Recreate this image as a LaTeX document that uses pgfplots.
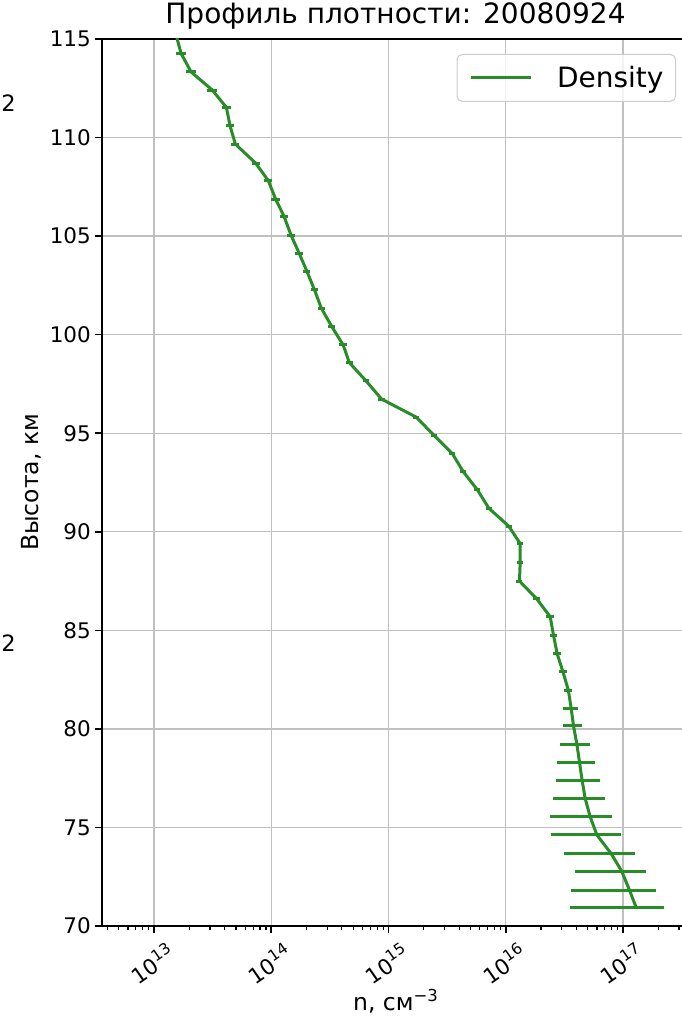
\documentclass[border=0pt]{standalone}
\usepackage{fontspec}
\setmainfont{DejaVu Sans}
\usepackage{pgfplots}
\usepackage{pgfplotstable}
\pgfplotsset{compat=1.18}

\definecolor{dens}{RGB}{40,140,40}
\definecolor{gridc}{RGB}{192,192,192}
\definecolor{legframe}{RGB}{204,204,204}

\newcommand\tenpow[1]{10\raisebox{9bp}{\fontsize{15.5bp}{15.5bp}\selectfont #1}}

% altitude (km), density (cm^-3), uncertainty (cm^-3)
\pgfplotstableread{
h      n         e
115.22 1.54e13   1.54e12
114.27 1.70e13   1.70e12
113.33 2.07e13   2.07e12
112.41 3.14e13   3.14e12
111.53 4.14e13   3.73e12
110.59 4.45e13   3.56e12
109.67 4.94e13   3.95e12
108.69 7.38e13   5.90e12
107.81 9.44e13   7.55e12
106.87 1.09e14   8.72e12
106.00 1.285e14  1.03e13
105.04 1.476e14  1.18e13
104.14 1.726e14  1.21e13
103.20 2.018e14  1.41e13
102.28 2.333e14  1.63e13
101.34 2.673e14  1.87e13
100.41 3.281e14  2.30e13
99.48  4.102e14  2.87e13
98.58  4.634e14  3.24e13
97.65  6.442e14  4.19e13
96.73  8.730e14  5.67e13
95.82  1.718e15  1.03e14
94.89  2.449e15  1.47e14
93.98  3.491e15  2.09e14
93.05  4.335e15  2.60e14
92.12  5.741e15  3.44e14
91.19  7.178e15  4.31e14
90.29  1.059e16  6.35e14
89.40  1.327e16  7.96e14
88.45  1.327e16  7.96e14
87.50  1.309e16  7.85e14
86.59  1.841e16  1.20e15
85.69  2.393e16  1.68e15
84.75  2.553e16  1.91e15
83.80  2.748e16  2.20e15
82.91  3.069e16  2.50e15
81.96  3.420e16  2.80e15
81.04  3.614e16  5.30e15
80.15  3.784e16  7.20e15
79.20  4.046e16  1.15e16
78.31  4.256e16  1.52e16
77.37  4.487e16  1.83e16
76.48  4.753e16  2.21e16
75.54  5.248e16  2.87e16
74.62  5.984e16  3.57e16
73.69  7.889e16  4.77e16
72.77  9.772e16  5.86e16
71.82  1.135e17  7.73e16
70.93  1.297e17  9.41e16
}\densitytable

\begin{document}
\begin{tikzpicture}
\begin{axis}[
  at={(0,0)}, anchor=south west,
  scale only axis, width=587bp, height=887bp,
  xmode=log, log basis x=10,
  xmin=3.600e12, xmax=3.656e17,
  ymin=70, ymax=115,
  ytick={70,75,...,115},
  xtick={1e13,1e14,1e15,1e16,1e17},
  xticklabels={\tenpow{13},\tenpow{14},\tenpow{15},\tenpow{16},\tenpow{17}},
  minor xtick={4e12,5e12,6e12,7e12,8e12,9e12,
    2e13,3e13,4e13,5e13,6e13,7e13,8e13,9e13,
    2e14,3e14,4e14,5e14,6e14,7e14,8e14,9e14,
    2e15,3e15,4e15,5e15,6e15,7e15,8e15,9e15,
    2e16,3e16,4e16,5e16,6e16,7e16,8e16,9e16,
    2e17,3e17},
  /pgf/number format/assume math mode=true,
  grid=major,
  major grid style={gridc, line width=1.3bp},
  axis line style={line width=1.6bp},
  every tick/.style={black, line width=1.6bp},
  minor tick style={black, line width=1.2bp},
  tick align=outside, tick pos=left,
  major tick length=7bp, minor tick length=4bp,
  tick label style={font=\fontsize{21.5bp}{25bp}\selectfont},
  yticklabel style={anchor=east, inner sep=0pt, xshift=-4bp},
  xticklabel style={anchor=center, inner sep=0pt, yshift=-30.5bp, xshift=-2bp, rotate=35},
  title={Профиль плотности: 20080924},
  title style={font=\fontsize{28bp}{34bp}\selectfont, at={(axis description cs:0.5,1)}, anchor=base, yshift=10bp, inner sep=0pt},
  xlabel={n, см\raisebox{9bp}{\fontsize{16.5bp}{16.5bp}\selectfont −3}},
  xlabel style={font=\fontsize{23.5bp}{28bp}\selectfont, at={(axis description cs:0.5,-0.0958)}, anchor=base, inner sep=0pt},
  ylabel={Высота, км},
  ylabel style={font=\fontsize{23.5bp}{28bp}\selectfont, at={(axis description cs:-0.1090,0.5)}, rotate=0, anchor=base, inner sep=0pt},
  legend style={at={(axis description cs:0.97785,0.98309)}, anchor=north east,
    draw=legframe, line width=1bp, rounded corners=5bp,
    fill=white, fill opacity=0.8, text opacity=1,
    inner xsep=12bp, inner ysep=12bp,
    font=\fontsize{28bp}{34bp}\selectfont,
    nodes={inner sep=0pt}},
  legend cell align=left,
]
\addplot[dens, line width=3bp,
  error bars/.cd, x dir=both, x explicit, error mark=none,
  error bar style={dens, line width=3bp}]
  table[x=n, y=h, x error=e] {\densitytable};
\addlegendimage{legend image code/.code={\draw[dens, line width=3bp] (0bp,0bp) -- (60bp,0bp); \path (86bp,0bp);}}
\legend{,Density}
\end{axis}
% neighbouring panel's tick labels at the left margin
\node[anchor=east, inner sep=0pt, font=\fontsize{22.5bp}{25bp}\selectfont] at (-86bp,823bp) {2};
\node[anchor=east, inner sep=0pt, font=\fontsize{22.5bp}{25bp}\selectfont] at (-86bp,283bp) {2};
\pgfresetboundingbox
\useasboundingbox (-102bp,-92bp) rectangle (580bp,926bp);
\end{tikzpicture}
\end{document}
